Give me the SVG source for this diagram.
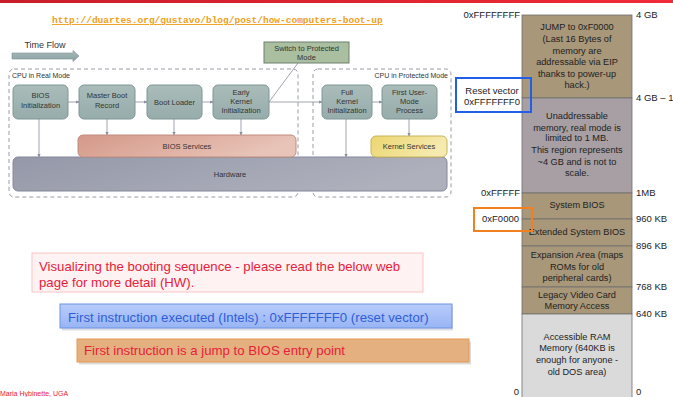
<svg xmlns="http://www.w3.org/2000/svg" width="673" height="397" viewBox="0 0 673 397">
<defs>
<linearGradient id="topbar" x1="0" y1="0" x2="1" y2="0"><stop offset="0" stop-color="#c81e2a"/><stop offset="1" stop-color="#f02a36"/></linearGradient>
<linearGradient id="gProc" x1="0" y1="0" x2="0" y2="1"><stop offset="0" stop-color="#a9bcba"/><stop offset="1" stop-color="#97adab"/></linearGradient>
<linearGradient id="gBios" x1="0" y1="0" x2="1" y2="0.3"><stop offset="0" stop-color="#d49888"/><stop offset="1" stop-color="#e8c4b8"/></linearGradient>
<linearGradient id="gHw" x1="0" y1="0" x2="1" y2="0.3"><stop offset="0" stop-color="#9498a8"/><stop offset="1" stop-color="#aeb0bc"/></linearGradient>
<linearGradient id="gKs" x1="0" y1="0" x2="1" y2="0.3"><stop offset="0" stop-color="#ecd670"/><stop offset="1" stop-color="#f6eab0"/></linearGradient>
<linearGradient id="gBlue" x1="0" y1="0" x2="0" y2="1"><stop offset="0" stop-color="#b8ccfa"/><stop offset="1" stop-color="#98b4f4"/></linearGradient>
<linearGradient id="gArrow" x1="0" y1="0" x2="0" y2="1"><stop offset="0" stop-color="#a8bcbc"/><stop offset="1" stop-color="#8aa0a2"/></linearGradient>
<marker id="ah" viewBox="0 0 6 6" refX="5.5" refY="3" markerWidth="4" markerHeight="4" orient="auto"><path d="M0,0 L6,3 L0,6 z" fill="#8a8c9c"/></marker>
<style>
.proc{fill:url(#gProc);stroke:#7f9694;stroke-width:1}
.pt{font-family:"Liberation Sans",Arial,sans-serif;font-size:7.5px;fill:#333;text-anchor:middle}
.dash{fill:none;stroke:#9a9aaa;stroke-width:1;stroke-dasharray:4 3}
.cap{font-family:"Liberation Sans",Arial,sans-serif;font-size:7px;fill:#333}
.con{fill:none;stroke:#8a8c9c;stroke-width:0.8;marker-end:url(#ah)}
.mem{font-family:"Liberation Sans",Arial,sans-serif;font-size:9.2px;fill:#222;text-anchor:middle}
.addr{font-family:"Liberation Sans",Arial,sans-serif;font-size:9.5px;fill:#222}
.note{font-family:"Liberation Sans",Arial,sans-serif;font-size:13.2px}
</style>
</defs>
<rect x="0" y="0" width="673" height="397" fill="#ffffff"/>
<rect x="0" y="0" width="673" height="3" fill="url(#topbar)"/>

<g id="url">
<text x="52" y="23" font-family="Liberation Mono,Courier New,monospace" font-weight="bold" font-size="9.5px" fill="#f0a020" text-decoration="underline">http://duartes.org/gustavo/blog/post/how-computers-boot-up</text>
</g>

<g id="timeflow">
<text x="45" y="48" font-family="Liberation Sans,Arial,sans-serif" font-size="9px" fill="#333" text-anchor="middle">Time Flow</text>
<path d="M12,53 L73,53 L73,50.5 L79,56 L73,61.5 L73,59 L12,59 z" fill="url(#gArrow)" stroke="#7d9090" stroke-width="0.6"/>
</g>

<g id="realmode">
<rect class="dash" x="9" y="69" width="289" height="128" rx="5"/>
<text class="cap" x="12" y="78">CPU in Real Mode</text>
</g>
<g id="protmode">
<rect class="dash" x="313" y="69" width="138" height="128" rx="5"/>
<text class="cap" x="448" y="78" text-anchor="end">CPU in Protected Mode</text>
</g>

<g id="hardware">
<rect x="13" y="157" width="434" height="34" rx="5" fill="url(#gHw)" stroke="#84879a" stroke-width="1"/>
<text class="pt" x="230" y="176.5">Hardware</text>
</g>
<g id="biosservices">
<rect x="78" y="135" width="218" height="22" rx="5" fill="url(#gBios)" stroke="#c08c7e" stroke-width="1"/>
<text class="pt" x="187" y="148.5">BIOS Services</text>
</g>
<g id="kernelservices">
<rect x="371" y="136" width="76" height="21" rx="5" fill="url(#gKs)" stroke="#c8b458" stroke-width="1"/>
<text class="pt" x="409" y="149">Kernel Services</text>
</g>

<g id="switch">
<rect x="264" y="42" width="85" height="21" fill="#a9bfa0" stroke="#6f7f6f" stroke-width="1"/>
<text class="pt" x="306.5" y="50.5">Switch to Protected</text>
<text class="pt" x="306.5" y="60">Mode</text>
</g>

<g id="biosinit">
<rect class="proc" x="13" y="85" width="55" height="34" rx="5"/>
<text class="pt" x="40.5" y="98">BIOS</text>
<text class="pt" x="40.5" y="108">Initialization</text>
</g>
<g id="mbr">
<rect class="proc" x="79" y="85" width="56" height="34" rx="5"/>
<text class="pt" x="107" y="98">Master Boot</text>
<text class="pt" x="107" y="108">Record</text>
</g>
<g id="bootloader">
<rect class="proc" x="147" y="85" width="55" height="34" rx="5"/>
<text class="pt" x="174.5" y="104.5">Boot Loader</text>
</g>
<g id="earlykernel">
<rect class="proc" x="213" y="85" width="56" height="34" rx="5"/>
<text class="pt" x="241" y="94.5">Early</text>
<text class="pt" x="241" y="103.5">Kernel</text>
<text class="pt" x="241" y="112.5">Initialization</text>
</g>
<g id="fullkernel">
<rect class="proc" x="322" y="85" width="50" height="34" rx="5"/>
<text class="pt" x="347" y="94.5">Full</text>
<text class="pt" x="347" y="103.5">Kernel</text>
<text class="pt" x="347" y="112.5">Initialization</text>
</g>
<g id="usermode">
<rect class="proc" x="382" y="85" width="55" height="34" rx="5"/>
<text class="pt" x="409.5" y="94.5">First User-</text>
<text class="pt" x="409.5" y="103.5">Mode</text>
<text class="pt" x="409.5" y="112.5">Process</text>
</g>

<g id="connectors">
<line class="con" x1="68" y1="102" x2="79" y2="102"/>
<line class="con" x1="135" y1="102" x2="147" y2="102"/>
<line class="con" x1="202" y1="102" x2="213" y2="102"/>
<line class="con" x1="269" y1="102" x2="322" y2="102"/>
<line class="con" x1="372" y1="102" x2="382" y2="102"/>
<line x1="269" y1="102" x2="298" y2="63" stroke="#8a8c9c" stroke-width="0.8"/>
<line class="con" x1="39" y1="119" x2="39" y2="157"/>
<line class="con" x1="107" y1="119" x2="107" y2="135"/>
<line class="con" x1="174" y1="119" x2="174" y2="135"/>
<line class="con" x1="241" y1="119" x2="241" y2="135"/>
<line class="con" x1="346" y1="119" x2="346" y2="157"/>
<line class="con" x1="409" y1="119" x2="409" y2="136"/>
</g>

<g id="memorymap">
<rect x="522" y="15" width="110" height="83" fill="#a89779" stroke="#6e6e6e" stroke-width="0.8"/>
<rect x="522" y="98" width="110" height="95" fill="#a79fa3" stroke="#6e6e6e" stroke-width="0.8"/>
<rect x="522" y="193" width="110" height="26" fill="#a89779" stroke="#6e6e6e" stroke-width="0.8"/>
<rect x="522" y="219" width="110" height="27" fill="#a89779" stroke="#6e6e6e" stroke-width="0.8"/>
<rect x="522" y="246" width="110" height="41" fill="#a89779" stroke="#6e6e6e" stroke-width="0.8"/>
<rect x="522" y="287" width="110" height="27" fill="#a89779" stroke="#6e6e6e" stroke-width="0.8"/>
<rect x="522" y="314" width="110" height="84" fill="#dadada" stroke="#6e6e6e" stroke-width="0.8"/>
<text class="mem" x="577" y="30">JUMP to 0xF0000</text>
<text class="mem" x="577" y="42">(Last 16 Bytes of</text>
<text class="mem" x="577" y="54">memory are</text>
<text class="mem" x="577" y="65">addressable via EIP</text>
<text class="mem" x="577" y="77">thanks to power-up</text>
<text class="mem" x="577" y="88">hack.)</text>
<text class="mem" x="577" y="119">Unaddressable</text>
<text class="mem" x="577" y="131">memory, real mode is</text>
<text class="mem" x="577" y="141">limited to 1 MB.</text>
<text class="mem" x="577" y="153">This region represents</text>
<text class="mem" x="577" y="165">~4 GB and is not to</text>
<text class="mem" x="577" y="176">scale.</text>
<text class="mem" x="577" y="208">System BIOS</text>
<text class="mem" x="577" y="235">Extended System BIOS</text>
<text class="mem" x="577" y="258">Expansion Area (maps</text>
<text class="mem" x="577" y="270">ROMs for old</text>
<text class="mem" x="577" y="281">peripheral cards)</text>
<text class="mem" x="577" y="298">Legacy Video Card</text>
<text class="mem" x="577" y="309">Memory Access</text>
<text class="mem" x="577" y="340">Accessible RAM</text>
<text class="mem" x="577" y="351">Memory (640KB is</text>
<text class="mem" x="577" y="363">enough for anyone -</text>
<text class="mem" x="577" y="375">old DOS area)</text>
</g>

<g id="addresses">
<text class="addr" x="520" y="18" text-anchor="end">0xFFFFFFFF</text>
<text class="addr" x="520" y="196" text-anchor="end">0xFFFFF</text>
<text class="addr" x="519" y="222" text-anchor="end">0xF0000</text>
<text class="addr" x="519" y="395" text-anchor="end">0</text>
<text class="addr" x="636" y="18">4 GB</text>
<text class="addr" x="636" y="101">4 GB – 1</text>
<text class="addr" x="636" y="196">1MB</text>
<text class="addr" x="636" y="222">960 KB</text>
<text class="addr" x="636" y="249">896 KB</text>
<text class="addr" x="636" y="290">768 KB</text>
<text class="addr" x="636" y="317">640 KB</text>
<text class="addr" x="636" y="395">0</text>
</g>

<g id="resetvector">
<rect x="456" y="78" width="75" height="34" fill="none" stroke="#2060e8" stroke-width="2"/>
<text class="addr" x="492" y="94" text-anchor="middle" font-size="9px">Reset vector</text>
<text class="addr" x="492" y="105" text-anchor="middle" font-size="9px">0xFFFFFFF0</text>
</g>
<g id="f0000box">
<rect x="474" y="208" width="58" height="23" fill="none" stroke="#f08020" stroke-width="2"/>
</g>

<g id="note1">
<rect x="32" y="253" width="391" height="39" fill="#fff2f2" stroke="#f8c4c4" stroke-width="1"/>
<text class="note" x="39" y="270.5" fill="#e8203a">Visualizing the booting sequence - please read the below web</text>
<text class="note" x="39" y="286.5" fill="#e8203a">page for more detail (HW).</text>
</g>
<g id="note2">
<rect x="61" y="305" width="391" height="24" fill="#9a9ab0" opacity="0.35" transform="translate(1,1.5)"/>
<rect x="60" y="304" width="392" height="24" fill="url(#gBlue)" stroke="#6a94e4" stroke-width="1"/>
<text class="note" x="68" y="321.5" fill="#2e5ed8">First instruction executed (Intels) : 0xFFFFFFF0 (reset vector)</text>
</g>
<g id="note3">
<rect x="78" y="340" width="392" height="23" fill="#9a9a9a" opacity="0.35" transform="translate(1,1.5)"/>
<rect x="77" y="339" width="392" height="23" fill="#e4b080" stroke="#e89a50" stroke-width="1"/>
<text class="note" x="84" y="355" fill="#e8203a">First instruction is a jump to BIOS entry point</text>
</g>

<g id="footer">
<text x="0" y="396" font-family="Liberation Sans,Arial,sans-serif" font-size="7px" fill="#e8203a">Maria Hybinette, UGA</text>
</g>
</svg>
